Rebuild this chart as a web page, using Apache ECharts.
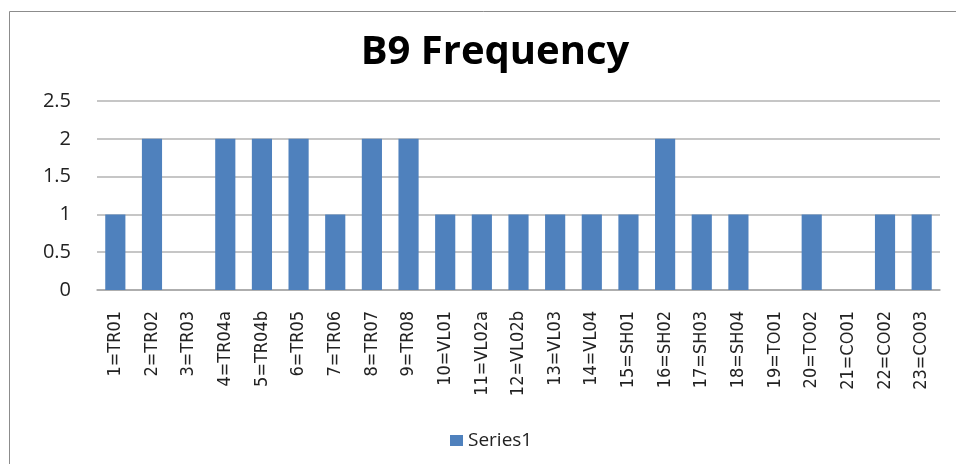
<!DOCTYPE html>
<html>
<head>
<meta charset="utf-8">
<script src="https://cdn.jsdelivr.net/npm/echarts@6/dist/echarts.min.js"></script>
<style>
  html, body { margin: 0; padding: 0; background: #fff; }
  #chart { width: 956px; height: 464px; }
</style>
</head>
<body>
<div id="chart"></div>
<script>
const categories = ['1=TR01', '2=TR02', '3=TR03', '4=TR04a', '5=TR04b', '6=TR05', '7=TR06', '8=TR07',
  '9=TR08', '10=VL01', '11=VL02a', '12=VL02b', '13=VL03', '14=VL04', '15=SH01', '16=SH02',
  '17=SH03', '18=SH04', '19=TO01', '20=TO02', '21=CO01', '22=CO02', '23=CO03'];
const series1 = [1, 2, 0, 2, 2, 2, 1, 2, 2, 1, 1, 1, 1, 1, 1, 2, 1, 1, 0, 1, 0, 1, 1];
const yTicks = [0, 0.5, 1, 1.5, 2, 2.5];

const chart = echarts.init(document.getElementById('chart'));

const option = {
    animation: false,
    backgroundColor: '#fff',
    title: {
        text: 'B9 Frequency',
        left: 490,
        textAlign: 'center',
        top: 28,
        textStyle: {
            fontFamily: 'Open Sans, DejaVu Sans, sans-serif',
            fontSize: 40,
            fontWeight: 'bold',
            color: '#000'
        }
    },
    graphic: [{
        type: 'rect',
        shape: { x: 9.5, y: 11.5, width: 1000, height: 500 },
        style: { fill: 'none', stroke: '#8c8c8c', lineWidth: 1 },
        z: -1
    }],
    grid: {
        left: 97,
        right: 16,
        top: 101,
        bottom: 174
    },
    legend: {
        data: ['Series1'],
        left: 445,
        top: 426,
        itemWidth: 13,
        itemHeight: 11,
        itemGap: 6,
        icon: 'rect',
        textStyle: {
            fontFamily: 'Open Sans, sans-serif',
            fontSize: 19,
            color: '#222'
        }
    },
    xAxis: {
        type: 'category',
        data: categories,
        axisLine: { lineStyle: { color: '#a6a6a6', width: 1.5 } },
        axisTick: { show: false },
        axisLabel: {
            rotate: 90,
            interval: 0,
            margin: 21,
            fontFamily: 'DejaVu Sans Condensed, Liberation Sans Narrow, sans-serif',
            fontSize: 18,
            color: '#222'
        }
    },
    yAxis: {
        type: 'value',
        min: yTicks[0],
        max: yTicks[yTicks.length - 1],
        interval: 0.5,
        axisLine: { show: false },
        axisTick: { show: false },
        splitLine: { lineStyle: { color: '#b3b3b3', width: 1.5 } },
        axisLabel: {
            margin: 26,
            fontFamily: 'Open Sans, sans-serif',
            fontSize: 20,
            color: '#222'
        }
    },
    series: [{
        name: 'Series1',
        type: 'bar',
        data: series1,
        barWidth: '55%',
        itemStyle: { color: '#4f81bd' }
    }]
};

chart.setOption(option);
</script>
</body>
</html>
